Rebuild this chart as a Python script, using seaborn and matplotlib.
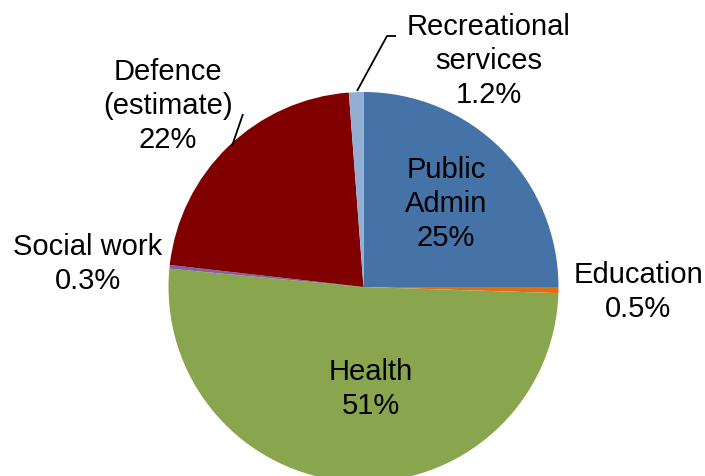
import matplotlib
matplotlib.use("Agg")
import matplotlib.pyplot as plt
import seaborn as sns

# Share of spending by function
categories = ["Public\nAdmin", "Education", "Health", "Social work",
              "Defence\n(estimate)", "Recreational\nservices"]
shares = [25, 0.5, 51, 0.3, 22, 1.2]
share_labels = ["25%", "0.5%", "51%", "0.3%", "22%", "1.2%"]
colors = ["#4572A7", "#E46C0A", "#89A54E", "#7F64A2", "#800000", "#93AED3"]

sns.set_theme(style="white")
plt.rcParams["font.family"] = ["Liberation Sans", "DejaVu Sans"]

W, H = 705, 477
fig = plt.figure(figsize=(W / 100, H / 100), dpi=100)
ax = fig.add_axes([0, 0, 1, 1])

cx, cy, r = 363.5, H - 288, 195
ax.pie(shares, colors=colors, startangle=90, counterclock=False,
       center=(cx, cy), radius=r,
       wedgeprops=dict(linewidth=0))

ax.set_xlim(0, W)
ax.set_ylim(0, H)
ax.set_aspect("equal")
ax.axis("off")

# label anchor points (pixels from top-left)
label_pos = [(446, 204), (638, 292), (371, 389), (88, 264), (168, 106), (489, 61)]
for name, pct, (x, y) in zip(categories, share_labels, label_pos):
    ax.text(x, H - y, f"{name}\n{pct}", ha="center", va="center",
            fontsize=21, color="black", linespacing=1.27)

# leader lines for the small / outer labels
ax.plot([357, 387, 396], [H - 92, H - 37, H - 37], color="black", lw=1.3,
        solid_capstyle="butt")
ax.plot([232, 243], [H - 147, H - 115], color="black", lw=1.3,
        solid_capstyle="butt")

fig.savefig("out.png", dpi=100)
